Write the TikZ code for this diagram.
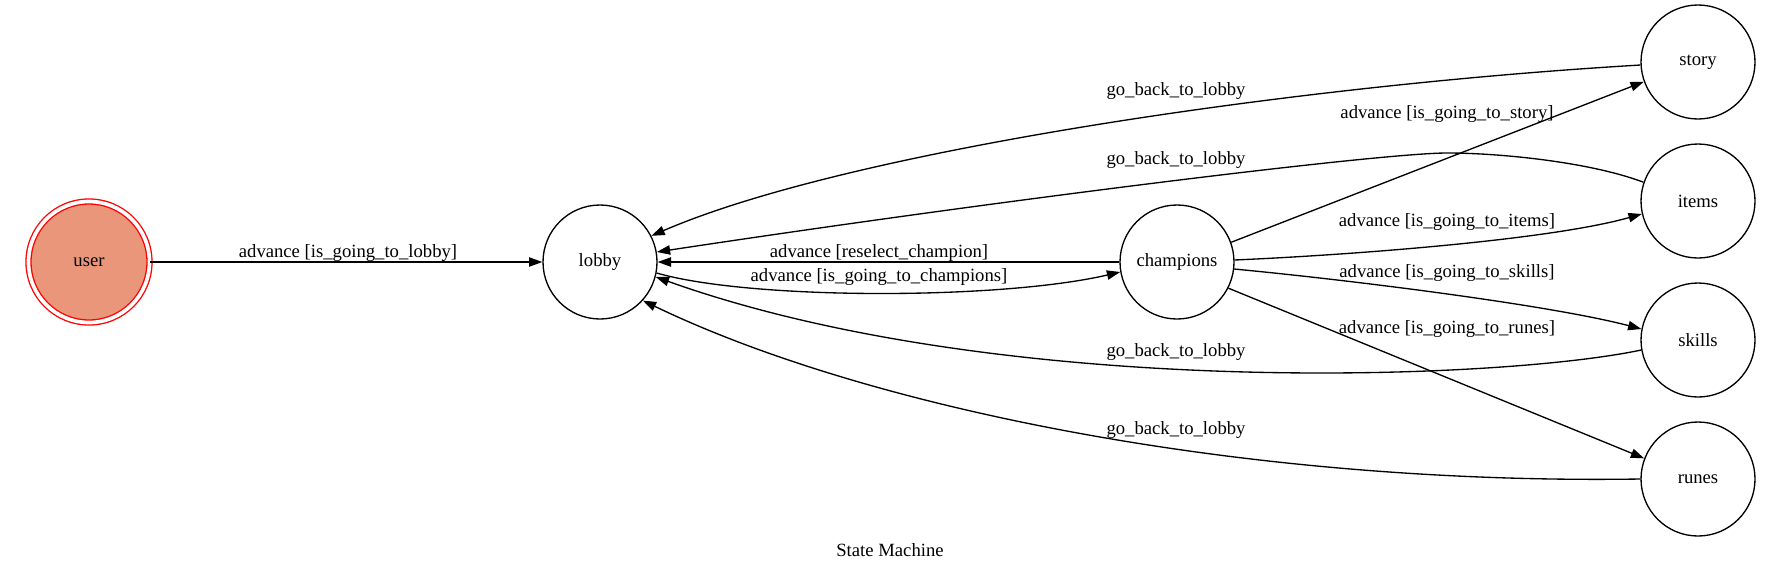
\documentclass[tikz,border=0pt]{standalone}
\usepackage{fontspec}
\setmainfont{Liberation Serif}
\usetikzlibrary{arrows.meta}
\definecolor{salmonfill}{RGB}{233,150,122}
\begin{document}
\begin{tikzpicture}[x=0.75pt,y=-0.75pt,
  every node/.style={font=\fontsize{14pt}{16pt}\selectfont},
  state/.style={circle,draw=black,line width=1pt,minimum size=85.5pt,inner sep=0pt},
  startstate/.style={circle,draw=red,line width=1pt,double=white,double distance=2.75pt,fill=salmonfill,minimum size=90.75pt,inner sep=0pt},
  edge/.style={draw=black,line width=1pt,-{Triangle[length=10pt,width=7pt]}},
  lbl/.style={anchor=base,inner sep=0pt}]
\useasboundingbox (0,0) rectangle (1780,572);
% states
\node[startstate] (user) at (89,262) {user};
\node[state] (lobby) at (600,262) {lobby};
\node[state] (champions) at (1177,262) {champions};
\node[state] (story) at (1698,62) {story};
\node[state] (items) at (1698,201) {items};
\node[state] (skills) at (1698,340) {skills};
\node[state] (runes) at (1698,479) {runes};
% transitions
\draw[edge] (user) -- (lobby);
\draw[edge] (champions.west) -- (lobby.east);
\draw[edge] (lobby.-11) .. controls (750,300) and (1000,300) .. (champions.190);
\draw[edge] (story.183) .. controls (1300,85) and (850,150) .. (lobby.27);
\draw[edge] (items.161) .. controls (1590,162) and (1500,153) .. (1447,153)
                        .. controls (1380,153) and (1000,200) .. (lobby.10);
\draw[edge] (skills.190) .. controls (1500,380) and (1000,400) .. (lobby.-15);
\draw[edge] (runes.180) .. controls (1250,485) and (870,410) .. (lobby.-42);
\draw[edge] (champions.20) -- (story.200);
\draw[edge] (champions.2) .. controls (1350,255) and (1550,240) .. (items.193);
\draw[edge] (champions.-7) .. controls (1350,280) and (1550,305) .. (skills.169);
\draw[edge] (champions.-27) -- (runes.159);
% labels
\node[lbl] (l1) at (348,257) {advance [is\_going\_to\_lobby]};
\node[lbl] (l2) at (879,257) {advance [reselect\_champion]};
\node[lbl] (l3) at (879,281) {advance [is\_going\_to\_champions]};
\node[lbl] (l4) at (1176,95) {go\_back\_to\_lobby};
\node[lbl] (l5) at (1176,164) {go\_back\_to\_lobby};
\node[lbl] (l6) at (1176,356) {go\_back\_to\_lobby};
\node[lbl] (l7) at (1176,434) {go\_back\_to\_lobby};
\node[lbl] (l8) at (1447,118) {advance [is\_going\_to\_story]};
\node[lbl] (l9) at (1447,226) {advance [is\_going\_to\_items]};
\node[lbl] (l10) at (1447,277) {advance [is\_going\_to\_skills]};
\node[lbl] (l11) at (1447,333) {advance [is\_going\_to\_runes]};
\node[lbl] (title) at (890,556) {State Machine};
\end{tikzpicture}
\end{document}
